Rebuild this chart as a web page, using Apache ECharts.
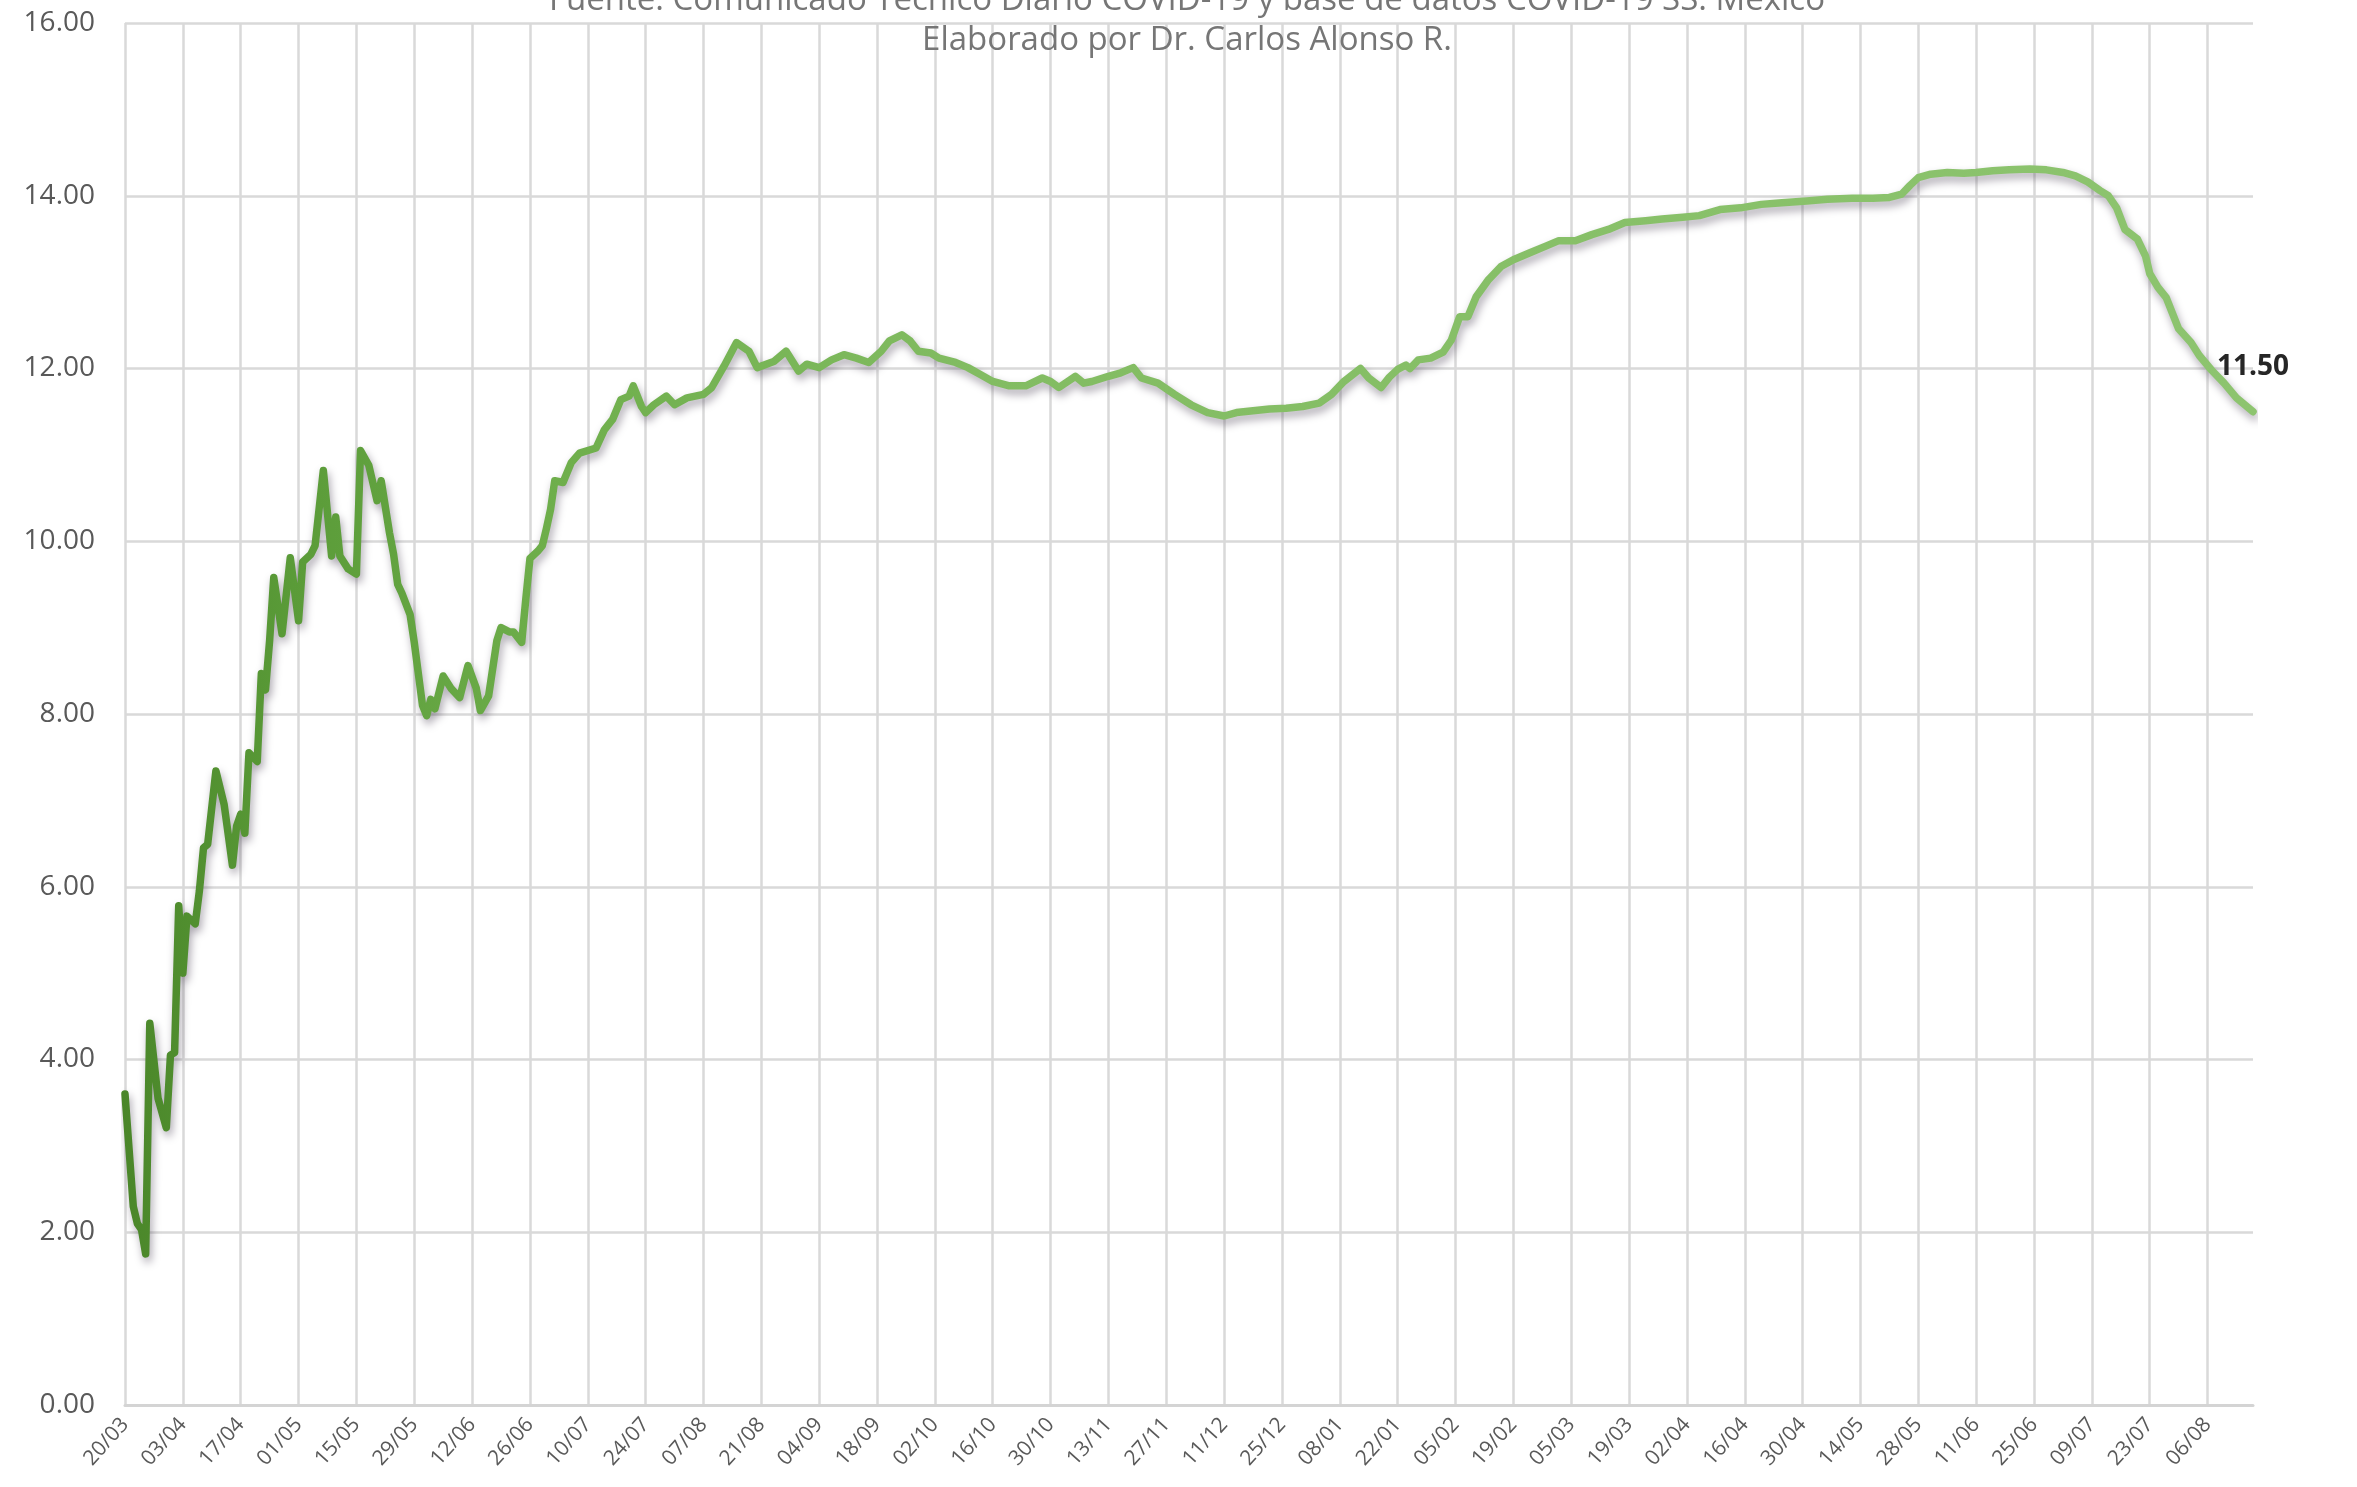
<!DOCTYPE html>
<html>
<head>
<meta charset="utf-8">
<script src="https://cdn.jsdelivr.net/npm/echarts@6/dist/echarts.min.js"></script>
<style>
  html, body { margin: 0; padding: 0; background: #ffffff; }
  #chart_container { width: 2357px; height: 1487px; }
</style>
</head>
<body>
<div id="chart_container"></div>
<script>
// tick labels every 14 days, starting 20/03/2020
var tickLabels = ['20/03', '03/04', '17/04', '01/05', '15/05', '29/05', '12/06', '26/06',
    '10/07', '24/07', '07/08', '21/08', '04/09', '18/09', '02/10', '16/10', '30/10',
    '13/11', '27/11', '11/12', '25/12', '08/01', '22/01', '05/02', '19/02', '05/03',
    '19/03', '02/04', '16/04', '30/04', '14/05', '28/05', '11/06', '25/06', '09/07',
    '23/07', '06/08'];

// day index (days since 20/03/2020) of each read point
var days = [0, 2, 3, 4, 5, 6, 8, 10, 11, 12, 13, 14, 15, 17, 18, 19, 20, 22, 24, 26,
    27, 28, 29, 30, 32, 33, 34, 35, 36, 38, 40, 42, 43, 45, 46, 48, 50, 51, 52, 54,
    56, 57, 59, 61, 62, 64, 65, 66, 67, 69, 70, 72, 73, 74, 75, 77, 79, 81, 83, 85,
    86, 88, 90, 91, 93, 94, 96, 97, 98, 100, 101, 102, 103, 104, 106, 108, 110, 114, 116, 118,
    120, 122, 123, 125, 126, 128, 131, 133, 136, 140, 142, 145, 148, 151, 153, 157, 160, 163, 165, 168,
    171, 174, 177, 180, 183, 185, 188, 190, 192, 195, 197, 201, 204, 207, 210, 214, 218, 222, 224, 226,
    230, 232, 234, 238, 241, 244, 246, 250, 254, 258, 262, 266, 269, 273, 277, 281, 285, 289, 292, 295,
    299, 301, 304, 306, 308, 310, 311, 313, 316, 319, 321, 323, 325, 327, 330, 333, 336, 340, 344, 347,
    351, 355, 359, 363, 368, 372, 377, 381, 386, 391, 396, 401, 407, 412, 418, 423, 427, 430, 432, 434,
    437, 441, 445, 448, 452, 456, 461, 465, 469, 472, 475, 478, 480, 482, 484, 487, 489, 490, 492, 494,
    497, 500, 502, 505, 508, 511, 515];

// rate
var rate = [3.60, 2.30, 2.10, 2.03, 1.75, 4.42, 3.55, 3.21, 4.05, 4.08, 5.78, 5.00, 5.66, 5.57, 5.95, 6.45, 6.49, 7.34, 6.95, 6.25,
    6.70, 6.84, 6.62, 7.55, 7.45, 8.47, 8.28, 8.85, 9.58, 8.93, 9.81, 9.08, 9.76, 9.85, 9.95, 10.82, 9.83, 10.28, 9.83, 9.68,
    9.62, 11.05, 10.88, 10.47, 10.70, 10.10, 9.85, 9.50, 9.40, 9.15, 8.83, 8.10, 7.98, 8.17, 8.06, 8.44, 8.29, 8.19, 8.56, 8.30,
    8.04, 8.21, 8.85, 9.00, 8.95, 8.95, 8.83, 9.33, 9.80, 9.89, 9.95, 10.15, 10.37, 10.70, 10.68, 10.91, 11.02, 11.08, 11.29, 11.41,
    11.64, 11.68, 11.80, 11.56, 11.49, 11.58, 11.68, 11.58, 11.66, 11.70, 11.78, 12.03, 12.30, 12.20, 12.01, 12.08, 12.20, 11.97, 12.05, 12.01,
    12.10, 12.16, 12.12, 12.07, 12.20, 12.32, 12.39, 12.32, 12.20, 12.18, 12.12, 12.07, 12.01, 11.93, 11.85, 11.80, 11.80, 11.89, 11.85, 11.78,
    11.91, 11.83, 11.85, 11.91, 11.95, 12.01, 11.89, 11.83, 11.70, 11.58, 11.49, 11.45, 11.49, 11.51, 11.53, 11.54, 11.56, 11.60, 11.70, 11.85,
    12.00, 11.89, 11.78, 11.90, 11.99, 12.04, 12.00, 12.10, 12.12, 12.19, 12.33, 12.60, 12.60, 12.83, 13.03, 13.18, 13.26, 13.34, 13.42, 13.48,
    13.48, 13.55, 13.61, 13.69, 13.71, 13.73, 13.75, 13.77, 13.84, 13.86, 13.90, 13.92, 13.94, 13.96, 13.97, 13.97, 13.98, 14.02, 14.12, 14.21,
    14.25, 14.27, 14.26, 14.27, 14.29, 14.30, 14.31, 14.30, 14.27, 14.23, 14.16, 14.06, 14.00, 13.86, 13.61, 13.50, 13.30, 13.10, 12.94, 12.82,
    12.46, 12.30, 12.15, 11.98, 11.83, 11.66, 11.50];

var titleLines = ['Fuente: Comunicado Técnico Diario COVID-19 y base de datos COVID-19 SS. México',
    'Elaborado por Dr. Carlos Alonso R.'];

function render_chart() {
    var dom = document.getElementById("chart_container");
    var myChart = echarts.init(dom);

    var seriesData = days.map(function (d, i) {
        return [d, rate[i]];
    });
    var last = seriesData[seriesData.length - 1];

    var option = {
        backgroundColor: '#ffffff',
        animation: false,
        title: {
            text: titleLines.join('\n'),
            left: 1182,
            textAlign: 'center',
            top: -24,
            textStyle: {
                color: '#767676',
                fontSize: 33,
                fontWeight: 'normal',
                fontFamily: 'Open Sans',
                lineHeight: 40
            }
        },
        grid: {
            left: 125,
            right: 104,
            top: 23,
            bottom: 82
        },
        xAxis: {
            type: 'value',
            min: 0,
            max: 515,
            interval: 14,
            axisLine: { show: true, lineStyle: { color: '#d4d4d4', width: 3 } },
            axisTick: { show: false },
            splitLine: { show: true, showMaxLine: false, lineStyle: { color: '#d9d9d9', width: 2.5 } },
            axisLabel: {
                rotate: 48,
                margin: 16,
                color: '#595959',
                fontSize: 21,
                fontFamily: 'Open Sans',
                showMaxLabel: false,
                formatter: function (v) {
                    var k = v / 14;
                    return (k === Math.round(k) && tickLabels[k]) ? tickLabels[k] : '';
                }
            }
        },
        yAxis: {
            type: 'value',
            min: 0,
            max: 16,
            interval: 2,
            axisLine: { show: false },
            axisTick: { show: false },
            splitLine: { lineStyle: { color: '#d9d9d9', width: 2.5 } },
            axisLabel: {
                margin: 30,
                color: '#595959',
                fontSize: 28,
                fontFamily: 'Open Sans',
                formatter: function (v) { return v.toFixed(2); }
            }
        },
        series: [{
            type: 'line',
            data: seriesData,
            showSymbol: false,
            symbol: 'none',
            smooth: false,
            lineStyle: {
                width: 7.5,
                cap: 'round',
                join: 'round',
                color: new echarts.graphic.LinearGradient(0, 0, 1, 0, [
                    { offset: 0, color: '#4a8629' },
                    { offset: 0.08, color: '#5a9b38' },
                    { offset: 0.2, color: '#6eae4b' },
                    { offset: 0.4, color: '#82bc62' },
                    { offset: 1, color: '#8dc46f' }
                ]),
                shadowColor: 'rgba(70, 60, 80, 0.45)',
                shadowBlur: 8,
                shadowOffsetX: 2,
                shadowOffsetY: 5
            },
            markPoint: {
                silent: true,
                symbol: 'circle',
                symbolSize: 1,
                itemStyle: { color: 'rgba(0,0,0,0)' },
                data: [{
                    coord: last,
                    value: last[1],
                    label: {
                        show: true,
                        position: 'top',
                        distance: 30,
                        formatter: function (p) { return p.value.toFixed(2); },
                        color: '#262626',
                        fontWeight: 'bold',
                        fontSize: 28,
                        fontFamily: 'Open Sans'
                    }
                }]
            },
            emphasis: { disabled: true }
        }]
    };
    myChart.setOption(option, true);
}
render_chart();
</script>
</body>
</html>
